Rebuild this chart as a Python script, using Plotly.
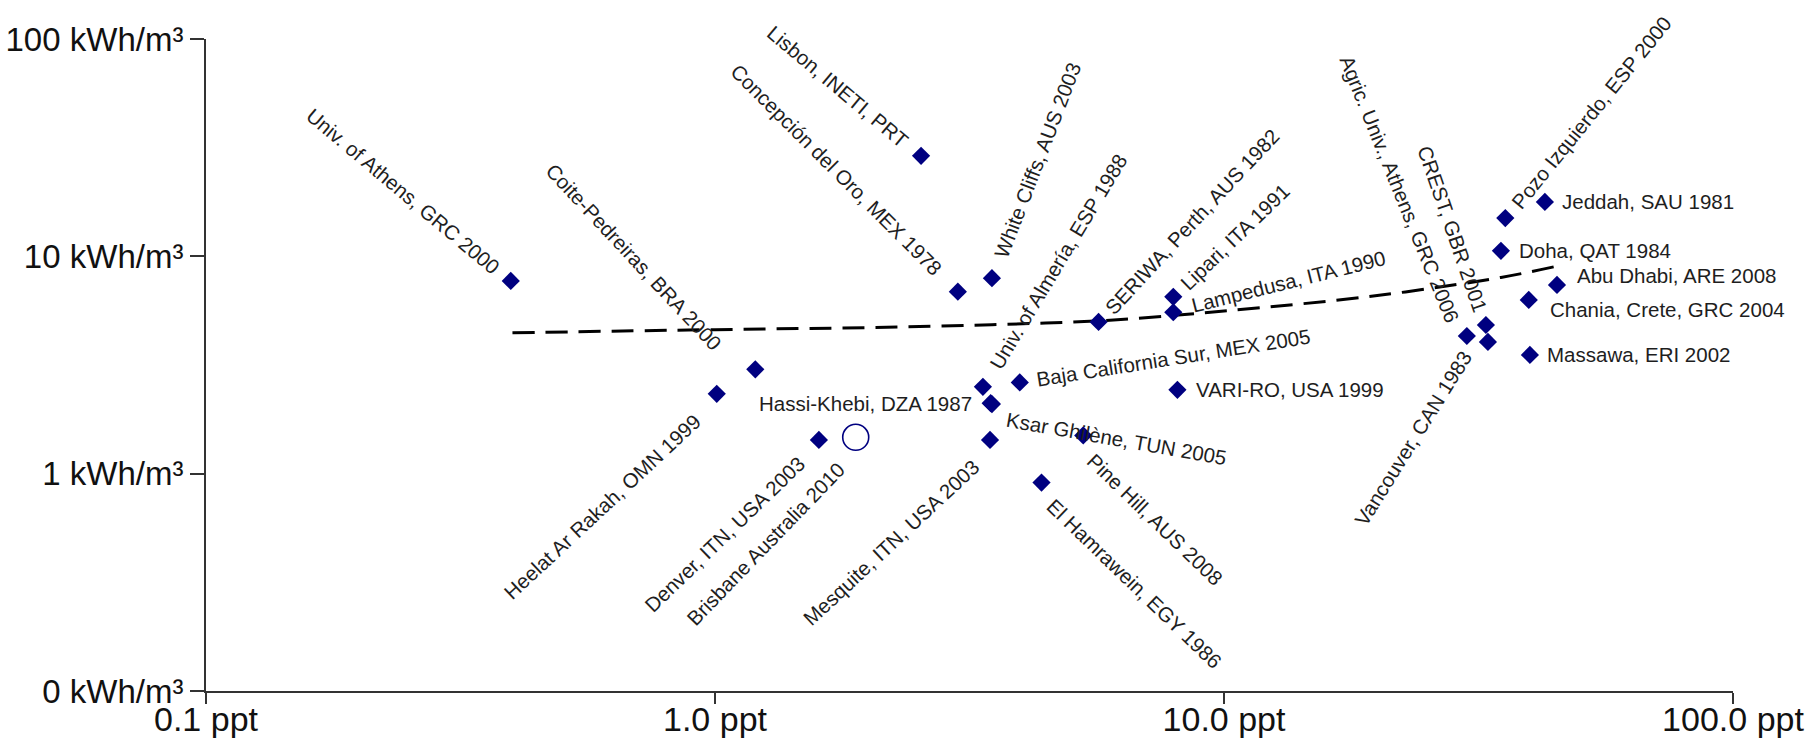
import math
import numpy as np
import plotly.graph_objects as go

# ---------------- data ----------------
sites = [
    "Univ. of Athens, GRC 2000",
    "Coite-Pedreiras, BRA 2000",
    "Heelat Ar Rakah, OMN 1999",
    "Denver, ITN, USA 2003",
    "Lisbon, INETI, PRT",
    "Concepción del Oro, MEX 1978",
    "White Cliffs, AUS 2003",
    "Univ. of Almería, ESP 1988",
    "Hassi-Khebi, DZA 1987",
    "Ksar Ghilène, TUN 2005",
    "Baja California Sur, MEX 2005",
    "Mesquite, ITN, USA 2003",
    "Pine Hill, AUS 2008",
    "El Hamrawein, EGY 1986",
    "SERIWA, Perth, AUS 1982",
    "Lipari, ITA 1991",
    "Lampedusa, ITA 1990",
    "VARI-RO, USA 1999",
    "Pozo Izquierdo, ESP 2000",
    "Jeddah, SAU 1981",
    "Doha, QAT 1984",
    "Abu Dhabi, ARE 2008",
    "Chania, Crete, GRC 2004",
    "CREST, GBR 2001",
    "Agric. Univ., Athens, GRC 2006",
    "Vancouver, CAN 1983",
    "Massawa, ERI 2002",
]
salinity_ppt = [0.397, 1.20, 1.008, 1.60, 2.54, 3.00, 3.50, 3.36, 3.48, 3.50,
                3.97, 3.47, 5.29, 4.38, 5.67, 7.95, 7.95, 8.1, 35.7, 42.7,
                35.0, 45.1, 39.7, 32.7, 30.0, 33.0, 39.9]
energy_kwh_m3 = [7.71, 3.02, 2.33, 1.43, 29.0, 6.88, 7.93, 2.51, 2.11, 2.09,
                 2.63, 1.43, 1.50, 0.91, 4.99, 6.51, 5.53, 2.43, 15.0, 17.8,
                 10.6, 7.39, 6.30, 4.83, 4.30, 4.04, 3.52]

brisbane_site = ["Brisbane Australia 2010"]
brisbane_ppt = [1.89]
brisbane_kwh_m3 = [1.47]

trend_ppt = [0.4, 1.0, 2.0, 3.5, 5.7, 10.0, 20.0, 35.0, 45.0]
trend_kwh_m3 = [4.45, 4.6, 4.7, 4.85, 5.05, 5.6, 6.6, 8.0, 9.0]

x_tickvals = [0.1, 1, 10, 100]
x_ticktext = ["0.1 ppt", "1.0 ppt", "10.0 ppt", "100.0 ppt"]
y_tickvals = [0.1, 1, 10, 100]
y_ticktext = ["0 kWh/m³", "1 kWh/m³", "10 kWh/m³", "100 kWh/m³"]

# ---------------- label styling: (angle, side, gap, perpendicular) ----------------
label_style = {
    "Univ. of Athens, GRC 2000": (40, "end", 16, 0),
    "Coite-Pedreiras, BRA 2000": (47, "end", 42, 12),
    "Heelat Ar Rakah, OMN 1999": (-43, "end", 30, 4),
    "Denver, ITN, USA 2003": (-44, "end", 26, 2),
    "Lisbon, INETI, PRT": (40, "end", 20, 0),
    "Concepción del Oro, MEX 1978": (45, "end", 28, 0),
    "White Cliffs, AUS 2003": (-69, "start", 22, 0),
    "Univ. of Almería, ESP 1988": (-59, "start", 22, 0),
    "Hassi-Khebi, DZA 1987": (0, "end", 18, 0),
    "Ksar Ghilène, TUN 2005": (10, "start", 17, 12),
    "Baja California Sur, MEX 2005": (-9, "start", 17, 0),
    "Mesquite, ITN, USA 2003": (-43, "end", 26, 7),
    "Pine Hill, AUS 2008": (44, "start", 20, 10),
    "El Hamrawein, EGY 1986": (44, "start", 20, 8),
    "SERIWA, Perth, AUS 1982": (-47, "start", 14, 0),
    "Lipari, ITA 1991": (-44, "start", 14, 0),
    "Lampedusa, ITA 1990": (-14, "start", 18, -2),
    "VARI-RO, USA 1999": (0, "start", 17, 0),
    "Pozo Izquierdo, ESP 2000": (-51, "start", 16, 0),
    "Jeddah, SAU 1981": (0, "start", 17, 0),
    "Doha, QAT 1984": (0, "start", 17, 0),
    "Abu Dhabi, ARE 2008": (0, "start", 19, -9),
    "Chania, Crete, GRC 2004": (0, "start", 21, 10),
    "CREST, GBR 2001": (71, "end", 14, 0),
    "Agric. Univ., Athens, GRC 2006": (68, "end", 17, 7),
    "Vancouver, CAN 1983": (-58, "end", 20, -12),
    "Massawa, ERI 2002": (0, "start", 17, 0),
    "Brisbane Australia 2010": (-46, "end", 30, 9),
}

LABEL_SIZE = 20.5
FONT = "Liberation Sans, Arial, Helvetica, sans-serif"

# approximate Arial advance widths (per 1000 em)
W = {' ': 278, ',': 278, '.': 278, '-': 333, '/': 278,
     'A': 667, 'B': 667, 'C': 722, 'D': 722, 'E': 667, 'F': 611, 'G': 778, 'H': 722,
     'I': 278, 'J': 500, 'K': 667, 'L': 556, 'M': 833, 'N': 722, 'O': 778, 'P': 667,
     'Q': 778, 'R': 722, 'S': 667, 'T': 611, 'U': 722, 'V': 667, 'W': 944, 'X': 667,
     'Y': 667, 'Z': 611,
     'a': 556, 'b': 556, 'c': 500, 'd': 556, 'e': 556, 'f': 278, 'g': 556, 'h': 556,
     'i': 222, 'j': 222, 'k': 500, 'l': 222, 'm': 833, 'n': 556, 'o': 556, 'p': 556,
     'q': 556, 'r': 333, 's': 500, 't': 278, 'u': 556, 'v': 500, 'w': 722, 'x': 500,
     'y': 500, 'z': 500, 'ó': 556, 'í': 222, 'è': 556}


def text_width(s, size):
    return sum(W.get(c, 556) for c in s) / 1000.0 * size


def label_annotation(name, xv, yv):
    ang, side, gap, perp = label_style[name]
    a = math.radians(ang)
    d = (math.cos(a), math.sin(a))
    n = (-math.sin(a), math.cos(a))
    L = text_width(name, LABEL_SIZE)
    c = gap + L / 2.0
    if side == "end":
        c = -c
    cx = c * d[0] + perp * n[0]
    cy = c * d[1] + perp * n[1]
    return dict(
        x=math.log10(xv), y=math.log10(yv), xref="x", yref="y",
        text=name, showarrow=False, textangle=ang,
        xanchor="center", yanchor="middle",
        xshift=cx, yshift=-cy,
        font=dict(family=FONT, size=LABEL_SIZE, color="#1e1e1e"),
    )


fig = go.Figure()

fig.add_trace(go.Scatter(
    x=trend_ppt, y=trend_kwh_m3, mode="lines",
    line=dict(color="black", width=3, dash="22px,11px"),
    line_shape="spline", hoverinfo="skip", showlegend=False,
))

fig.add_trace(go.Scatter(
    x=salinity_ppt, y=energy_kwh_m3, mode="markers", text=sites,
    marker=dict(symbol="diamond", size=14, color="#000080",
                line=dict(width=0)),
    showlegend=False,
))

fig.add_trace(go.Scatter(
    x=brisbane_ppt, y=brisbane_kwh_m3, mode="markers", text=brisbane_site,
    marker=dict(symbol="circle-open", size=26, color="#000080",
                line=dict(width=1.6, color="#000080")),
    showlegend=False,
))

annotations = [label_annotation(s, x, y)
               for s, x, y in zip(sites, salinity_ppt, energy_kwh_m3)]
annotations += [label_annotation(s, x, y)
                for s, x, y in zip(brisbane_site, brisbane_ppt, brisbane_kwh_m3)]

fig.update_layout(
    width=1818, height=743,
    margin=dict(l=206, r=85, t=39, b=52, pad=0, autoexpand=False),
    paper_bgcolor="white", plot_bgcolor="white",
    font=dict(family=FONT, color="#111111"),
    annotations=annotations,
    showlegend=False,
)

fig.update_xaxes(
    type="log", range=[-1, 2], tickvals=x_tickvals, ticktext=x_ticktext,
    automargin=False,
    showgrid=False, zeroline=False, showline=True, linecolor="#333333", linewidth=2,
    ticks="outside", ticklen=11, tickwidth=1.5, tickcolor="#333333",
    ticklabelstandoff=-14,
    tickfont=dict(family=FONT, size=34, color="#111111"),
)
fig.update_yaxes(
    type="log", range=[-1, 2], tickvals=y_tickvals, ticktext=y_ticktext,
    automargin=False,
    showgrid=False, zeroline=False, showline=True, linecolor="#333333", linewidth=2,
    ticks="outside", ticklen=14, tickwidth=1.5, tickcolor="#333333",
    tickfont=dict(family=FONT, size=33, color="#111111"),
)

fig.write_html("out.html",
               config={"displayModeBar": False},
               post_script="document.body.style.margin='0px';"
                           "document.body.style.overflow='hidden';")
